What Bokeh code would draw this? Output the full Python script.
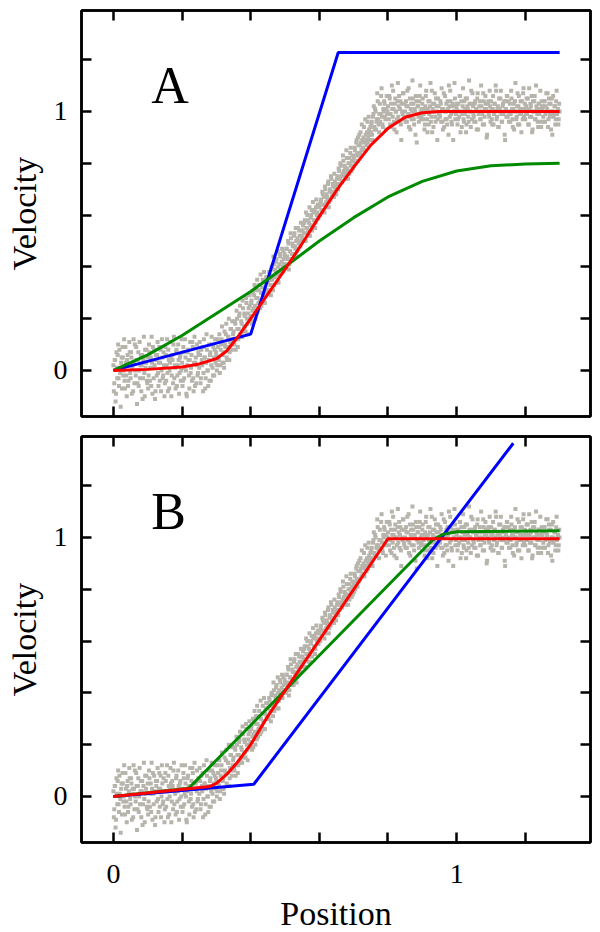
import numpy as np
from bokeh.plotting import figure
from bokeh.models import LinearAxis, FixedTicker, Range1d, Label
from bokeh.layouts import column
from bokeh.embed import file_html
from bokeh.resources import INLINE

FONT = "Liberation Serif"
AXIS_FONT = "'Liberation Serif', 'Times New Roman', serif"

# ---------------- data ----------------
tick_labeled = [0, 1]
tick_unlabeled = [0.2, 0.4, 0.6, 0.8, 1.2]
tick_all = [0, 0.2, 0.4, 0.6, 0.8, 1.0, 1.2]

# measured data (grey points): two interleaved, evenly sampled runs over 0 .. 1.3
scatter_x1 = np.linspace(0.0, 1.3, 521)
scatter_y1_hundredths = [
    2, -5, 4, -9, 1, 6, -3, 8, -1, 3, -7, 5, 0, -4, 9, -2, 4, -6, 2, 7,
    -3, 5, 1, -8, 3, 10, -2, 4, -5, 7, 0, -3, 6, 2, -11, 4, -1, 8, 3, -4,
    5, -2, 7, 1, -6, 3, 9, -3, 2, -8, 4, 6, -1, 3, -4, 8, 0, 5, -2, 2,
    -5, 6, 2, -1, 8, -7, 3, 5, -2, 4, 10, -3, 1, 7, -6, 2, 4, -1, 6, 0,
    3, -4, 7, 1, 5, -9, 2, 8, -2, 4, -1, 6, 11, -3, 3, -6, 5, 2, -2, 7,
    1, 6, -3, 4, 9, -1, 5, -7, 3, 8, 0, 4, -4, 7, 2, 10, -2, 5, 8, 3,
    6, 2, 9, 4, -1, 8, 12, 3, 7, 1, 10, 14, 5, 9, 13, 4, 11, 16, 8, 12,
    15, 10, 18, 12, 20, 9, 16, 22, 14, 19, 13, 24, 17, 21, 15, 26, 18, 22, 20, 25,
    21, 27, 23, 19, 29, 25, 31, 22, 28, 26, 33, 24, 30, 27, 35, 29, 26, 32, 36, 30,
    34, 30, 37, 33, 39, 35, 31, 41, 36, 38, 43, 34, 40, 37, 45, 39, 42, 38, 46, 41,
    44, 40, 47, 43, 49, 41, 46, 51, 45, 48, 43, 53, 47, 50, 46, 55, 49, 52, 48, 54,
    51, 56, 53, 58, 50, 55, 60, 54, 57, 52, 59, 62, 56, 61, 58, 55, 63, 60, 64, 59,
    63, 60, 66, 62, 68, 64, 61, 70, 65, 67, 72, 63, 69, 66, 74, 68, 71, 67, 73, 70,
    72, 75, 70, 77, 74, 79, 73, 76, 81, 75, 78, 74, 82, 77, 80, 76, 84, 79, 81, 78,
    82, 86, 80, 88, 84, 90, 83, 87, 92, 85, 89, 86, 94, 88, 91, 87, 96, 90, 93, 89,
    92, 96, 89, 99, 94, 101, 93, 97, 104, 95, 99, 96, 106, 98, 94, 100, 103, 97, 101, 99,
    102, 97, 105, 99, 94, 101, 108, 96, 103, 100, 92, 104, 98, 106, 101, 95, 103, 99, 107, 97,
    100, 104, 96, 102, 109, 98, 93, 103, 100, 105, 97, 101, 91, 104, 99, 102, 96, 106, 100, 98,
    103, 97, 101, 95, 106, 100, 92, 104, 99, 102, 96, 108, 101, 94, 103, 98, 105, 100, 97, 102,
    99, 104, 96, 101, 93, 107, 100, 97, 103, 95, 101, 110, 98, 104, 96, 102, 89, 100, 105, 99,
    101, 95, 103, 98, 106, 100, 94, 102, 97, 104, 99, 92, 105, 101, 96, 103, 100, 108, 97, 102,
    98, 103, 96, 101, 105, 93, 100, 104, 97, 102, 99, 107, 95, 101, 103, 90, 100, 104, 98, 102,
    104, 97, 101, 95, 103, 100, 108, 98, 102, 94, 101, 105, 99, 96, 103, 100, 91, 104, 98, 106,
    100, 96, 103, 99, 105, 97, 101, 93, 104, 100, 98, 107, 102, 95, 101, 99, 104, 97, 109, 101,
    97, 102, 99, 105, 95, 101, 103, 98, 92, 104, 100, 106, 97, 102, 99, 94, 103, 101, 96, 104,
    101, 98, 104, 96, 102, 100, 107, 97, 103, 99, 93, 105, 100, 98, 102, 95, 104, 99, 101, 97,
    100,
]
scatter_x2 = np.linspace(0.00125, 1.29875, 520)
scatter_y2_hundredths = [
    -8, 4, -12, 7, -3, 10, -6, 1, -14, 5, 9, -2, 12, -7, 3, -10, 6, -4, 11, -1,
    7, -9, 3, 12, -5, 0, 9, -13, 4, -6, 11, 2, -8, 6, -3, 13, -10, 1, 8, -5,
    -7, 10, -4, 5, 13, -9, 1, 8, -11, 6, -2, 11, -6, 9, 3, -8, 12, -3, 7, -10,
    9, -4, 12, -8, 4, 0, 11, -10, 6, -5, 13, 2, -7, 8, -2, 10, -9, 5, -4, 12,
    -6, 9, -3, 12, 0, -10, 7, 4, -7, 11, 1, -4, 9, -8, 13, 3, -5, 10, -1, 6,
    11, -5, 8, 2, -8, 12, 5, -3, 14, 0, -6, 10, 6, -4, 13, 1, 9, -2, 12, 7,
    0, 12, 5, 14, 2, 10, 17, 6, 3, 15, 9, 18, 4, 13, 20, 7, 16, 10, 19, 14,
    11, 19, 8, 23, 16, 12, 21, 25, 13, 18, 27, 15, 22, 17, 28, 20, 14, 24, 29, 19,
    26, 18, 30, 24, 33, 20, 28, 35, 23, 31, 27, 37, 25, 32, 29, 38, 26, 34, 31, 36,
    31, 38, 35, 29, 40, 36, 44, 33, 39, 42, 37, 46, 34, 41, 44, 38, 47, 40, 43, 45,
    41, 47, 44, 50, 39, 46, 53, 43, 49, 45, 52, 48, 55, 44, 51, 47, 54, 50, 57, 52,
    54, 50, 57, 53, 61, 55, 58, 52, 63, 56, 60, 54, 65, 58, 62, 57, 66, 61, 59, 64,
    60, 65, 62, 69, 64, 67, 71, 63, 68, 66, 73, 65, 70, 75, 67, 72, 69, 76, 71, 68,
    74, 70, 78, 72, 80, 75, 73, 83, 77, 79, 76, 85, 78, 74, 82, 80, 86, 77, 83, 81,
    79, 85, 83, 89, 81, 87, 91, 84, 88, 95, 86, 90, 85, 97, 89, 92, 88, 98, 91, 94,
    95, 91, 98, 102, 93, 100, 96, 107, 97, 92, 103, 99, 109, 95, 101, 104, 98, 93, 106, 100,
    99, 106, 95, 103, 110, 98, 101, 93, 105, 100, 97, 111, 102, 96, 104, 89, 100, 107, 98, 103,
    96, 102, 108, 99, 94, 105, 101, 97, 112, 103, 95, 100, 106, 88, 102, 98, 104, 110, 97, 101,
    105, 99, 93, 102, 108, 97, 101, 95, 104, 111, 98, 92, 103, 100, 107, 96, 102, 89, 105, 99,
    98, 103, 109, 96, 101, 94, 106, 100, 97, 104, 91, 102, 108, 99, 95, 103, 100, 111, 97, 102,
    103, 97, 100, 106, 92, 104, 99, 109, 96, 101, 105, 95, 102, 98, 112, 100, 94, 103, 107, 99,
    96, 104, 101, 93, 107, 99, 102, 97, 110, 100, 95, 104, 98, 106, 101, 91, 103, 99, 108, 96,
    101, 95, 106, 99, 103, 110, 97, 101, 94, 105, 100, 108, 96, 102, 99, 104, 89, 101, 106, 98,
    104, 99, 96, 108, 101, 94, 103, 100, 111, 97, 102, 95, 106, 99, 104, 92, 101, 107, 98, 103,
    99, 105, 101, 95, 109, 98, 102, 106, 93, 100, 104, 97, 110, 101, 96, 103, 99, 108, 94, 102,
    102, 96, 104, 99, 107, 101, 94, 105, 98, 103, 100, 91, 106, 99, 102, 97, 108, 100, 95, 103,
]
scatter_x = np.concatenate([scatter_x1, scatter_x2])
scatter_y = np.concatenate([np.array(scatter_y1_hundredths), np.array(scatter_y2_hundredths)]) / 100.0

# Panel A fits
a_blue_x = [0.0, 0.40, 0.655, 1.30]
a_blue_y = [0.0, 0.14, 1.228, 1.228]
a_green_x = [0.0, 0.1, 0.2, 0.3, 0.4, 0.5, 0.6, 0.7, 0.8, 0.9, 1.0, 1.1, 1.2, 1.3]
a_green_y = [0.0, 0.06, 0.135, 0.22, 0.305, 0.40, 0.50, 0.59, 0.67, 0.73, 0.77, 0.79, 0.797, 0.80]
a_red_x = [0.0, 0.1, 0.2, 0.25, 0.3, 0.33, 0.36, 0.4, 0.45, 0.5, 0.55, 0.6, 0.65, 0.7,
           0.75, 0.8, 0.85, 0.9, 0.95, 1.3]
a_red_y = [0.0, 0.004, 0.013, 0.025, 0.045, 0.075, 0.125, 0.2, 0.295, 0.39, 0.49, 0.595,
           0.695, 0.785, 0.87, 0.935, 0.978, 0.995, 1.0, 1.0]

# Panel B fits
b_blue_x = [0.0, 0.409, 1.165]
b_blue_y = [0.0, 0.047, 1.364]
b_green_x = [0.0, 0.22, 0.93, 0.96, 1.0, 1.3]
b_green_y = [0.0, 0.032, 0.99, 1.012, 1.022, 1.026]
b_red_x = [0.0, 0.28, 0.3, 0.33, 0.36, 0.4, 0.45, 0.8, 1.3]
b_red_y = [0.0, 0.038, 0.05, 0.085, 0.13, 0.2, 0.31, 0.995, 0.995]

GREY = "#B7B4AC"
BLUE = "#0000FF"
GREEN = "#008A00"
RED = "#FF0000"


def tick_style(ax):
    ax.major_tick_in = 10
    ax.major_tick_out = 0
    ax.minor_tick_in = 10
    ax.minor_tick_out = 0
    ax.major_tick_line_width = 2.5
    ax.minor_tick_line_width = 2.5
    ax.axis_line_width = 2.5
    ax.major_tick_line_color = "black"
    ax.minor_tick_line_color = "black"
    ax.axis_line_color = "black"


def labeled_axis(label, label_standoff, title_standoff):
    ax = LinearAxis(ticker=FixedTicker(ticks=tick_labeled, minor_ticks=tick_unlabeled),
                    axis_label=label,
                    major_label_text_font=AXIS_FONT,
                    major_label_text_font_size="28px",
                    major_label_text_color="black",
                    major_label_standoff=label_standoff,
                    axis_label_text_font=AXIS_FONT,
                    axis_label_text_font_size="34px",
                    axis_label_text_font_style="normal",
                    axis_label_text_color="black",
                    axis_label_standoff=title_standoff)
    tick_style(ax)
    return ax


def bare_axis():
    ax = LinearAxis(ticker=FixedTicker(ticks=[], minor_ticks=tick_all))
    tick_style(ax)
    ax.major_label_standoff = 0
    ax.major_label_text_font_size = "0px"
    return ax


def panel(letter, blue, green, red, bottom_labels, top_border, bottom_border):
    p = figure(frame_width=509, frame_height=406,
               x_range=Range1d(-0.093, 1.39), y_range=Range1d(-0.178, 1.39),
               x_axis_location=None, y_axis_location=None,
               output_backend="svg", toolbar_location=None,
               min_border_left=81, min_border_right=2,
               min_border_top=top_border, min_border_bottom=bottom_border,
               background_fill_color="white", border_fill_color="white")
    p.grid.visible = False
    p.outline_line_color = "black"
    p.outline_line_width = 2.5

    p.add_layout(labeled_axis("Velocity", 14, 8), "left")
    p.add_layout(bare_axis(), "right")
    p.add_layout(bare_axis(), "above")
    if bottom_labels:
        p.add_layout(labeled_axis("Position", 22, 9), "below")
    else:
        p.add_layout(bare_axis(), "below")

    p.scatter(scatter_x, scatter_y, marker="square", size=4, color=GREY, line_color=None)
    p.line(blue[0], blue[1], line_color=BLUE, line_width=3)
    p.line(green[0], green[1], line_color=GREEN, line_width=3)
    p.line(red[0], red[1], line_color=RED, line_width=3)

    p.add_layout(Label(x=0.11, y=1.10, text=letter, text_font=FONT,
                       text_font_size="52px", text_align="left",
                       text_baseline="alphabetic", text_color="black"))
    return p


pA = panel("A", (a_blue_x, a_blue_y), (a_green_x, a_green_y), (a_red_x, a_red_y),
           False, 10, 9)
pB = panel("B", (b_blue_x, b_blue_y), (b_green_x, b_green_y), (b_red_x, b_red_y),
           True, 11, 0)

layout = column(pA, pB, spacing=0)

open("out.html", "w").write(file_html(layout, INLINE))
